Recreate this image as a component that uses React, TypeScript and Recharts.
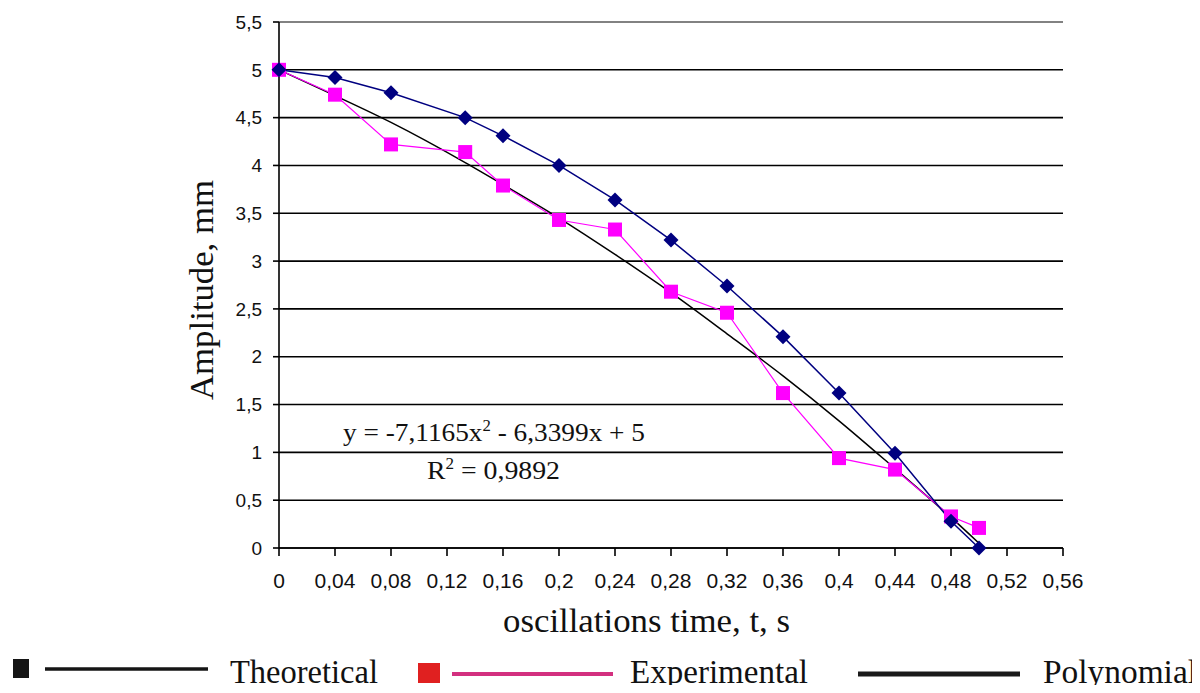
import React from "react";
import { CartesianGrid, Line, LineChart, ReferenceLine, XAxis, YAxis } from "recharts";

// time points, s
const times = [0, 0.04, 0.08, 0.133, 0.16, 0.2, 0.24, 0.28, 0.32, 0.36, 0.4, 0.44, 0.48, 0.5];
// amplitude, mm
const theoretical = [5, 4.92, 4.76, 4.5, 4.31, 4.0, 3.64, 3.22, 2.74, 2.21, 1.62, 0.99, 0.28, 0];
const experimental = [5, 4.74, 4.22, 4.14, 3.79, 3.43, 3.33, 2.68, 2.46, 1.62, 0.94, 0.82, 0.33, 0.21];
const polynomial = [5, 4.73, 4.45, 4.03, 3.8, 3.45, 3.07, 2.67, 2.24, 1.8, 1.33, 0.83, 0.32, 0.05];

const xTicks = [0, 0.04, 0.08, 0.12, 0.16, 0.2, 0.24, 0.28, 0.32, 0.36, 0.4, 0.44, 0.48, 0.52, 0.56];
const yTicks = [0, 0.5, 1, 1.5, 2, 2.5, 3, 3.5, 4, 4.5, 5, 5.5];

const rows = times.map((t, i) => ({
  t,
  theoretical: theoretical[i],
  experimental: experimental[i],
  polynomial: polynomial[i]
}));

const comma = (v: number) => String(v).replace(".", ",");

const Diamond = (props: any) => {
  const { cx, cy } = props;
  if (cx == null || cy == null) return null;
  const r = 7.5;
  return (
    <polygon
      points={`${cx},${cy - r} ${cx + r},${cy} ${cx},${cy + r} ${cx - r},${cy}`}
      fill="#000080"
    />
  );
};

const Square = (props: any) => {
  const { cx, cy } = props;
  if (cx == null || cy == null) return null;
  return <rect x={cx - 7} y={cy - 7} width={14} height={14} fill="#ff00ff" />;
};

const serif = "'Liberation Serif', 'Times New Roman', serif";
const sans = "'Liberation Sans', Arial, sans-serif";

export default function App() {
  return (
    <div style={{ position: "relative", width: 1200, height: 693, margin: -8, background: "#fff", overflow: "hidden" }}>
      <LineChart width={1200} height={693} data={rows} margin={{ top: 22, right: 137, left: 219, bottom: 105 }}>
        <CartesianGrid vertical={false} stroke="#000" strokeWidth={1.6} />
        <ReferenceLine y={5.5} stroke="#999" strokeWidth={1.5} />
        <XAxis
          dataKey="t"
          type="number"
          domain={[0, 0.56]}
          ticks={xTicks}
          tickFormatter={comma}
          height={40}
          tickSize={8}
          tickMargin={17}
          stroke="#000"
          strokeWidth={1.6}
          tick={{ fill: "#111", fontSize: 21, fontFamily: sans }}
        />
        <YAxis
          type="number"
          domain={[0, 5.5]}
          ticks={yTicks}
          tickFormatter={comma}
          width={60}
          tickSize={6}
          tickMargin={11}
          stroke="#000"
          strokeWidth={1.6}
          tick={{ fill: "#111", fontSize: 19, fontFamily: sans }}
        />
        <Line
          dataKey="polynomial"
          type="monotone"
          stroke="#000"
          strokeWidth={1.5}
          dot={false}
          isAnimationActive={false}
        />
        <Line
          dataKey="experimental"
          type="linear"
          stroke="#ff00ff"
          strokeWidth={1.2}
          dot={<Square />}
          isAnimationActive={false}
        />
        <Line
          dataKey="theoretical"
          type="linear"
          stroke="#000080"
          strokeWidth={1.5}
          dot={<Diamond />}
          isAnimationActive={false}
        />
      </LineChart>

      <svg width={1200} height={693} style={{ position: "absolute", left: 0, top: 0, pointerEvents: "none" }}>
        <text
          transform="translate(213,290) rotate(-90)"
          textAnchor="middle"
          fontFamily={serif}
          fontSize={34}
          fill="#111"
          textLength={220}
          lengthAdjust="spacingAndGlyphs"
        >
          Amplitude, mm
        </text>
        <text x={503} y={632} fontFamily={serif} fontSize={34} fill="#111" textLength={287} lengthAdjust="spacingAndGlyphs">
          oscillations time, t, s
        </text>

        <text x={343} y={441} fontFamily={serif} fontSize={26} fill="#111" textLength={302} lengthAdjust="spacingAndGlyphs">
          y = -7,1165x<tspan dy={-10} fontSize={16}>2</tspan><tspan dy={10}> - 6,3399x + 5</tspan>
        </text>
        <text x={427} y={479} fontFamily={serif} fontSize={26} fill="#111" textLength={133} lengthAdjust="spacingAndGlyphs">
          R<tspan dy={-10} fontSize={16}>2</tspan><tspan dy={10}> = 0,9892</tspan>
        </text>

        <rect x={13} y={659} width={16} height={19} fill="#151515" />
        <line x1={45} y1={669} x2={208} y2={669} stroke="#151515" strokeWidth={3.5} />
        <text x={230} y={683} fontFamily={serif} fontSize={34} fill="#111" textLength={148} lengthAdjust="spacingAndGlyphs">
          Theoretical
        </text>

        <rect x={418} y={663} width={22} height={20} fill="#e02020" />
        <line x1={452} y1={674} x2={613} y2={674} stroke="#d3307f" strokeWidth={4} />
        <text x={630} y={683} fontFamily={serif} fontSize={34} fill="#111" textLength={178} lengthAdjust="spacingAndGlyphs">
          Experimental
        </text>

        <line x1={858} y1={674} x2={1020} y2={674} stroke="#1a1a1a" strokeWidth={5} />
        <text x={1043} y={683} fontFamily={serif} fontSize={34} fill="#111" textLength={154} lengthAdjust="spacingAndGlyphs">
          Polynomial
        </text>
      </svg>
    </div>
  );
}
